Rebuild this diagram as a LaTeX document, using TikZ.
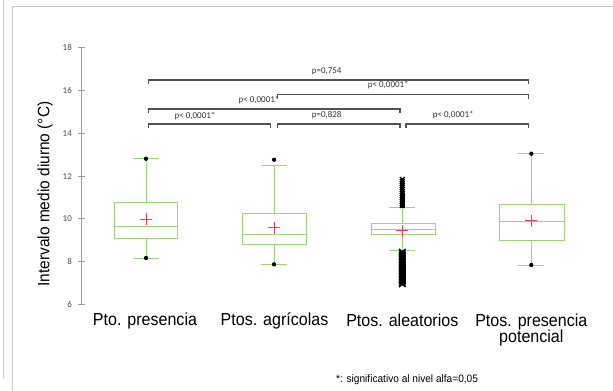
\documentclass[tikz,border=0pt]{standalone}
\usepackage{fontspec}
\setmainfont{Liberation Sans}
\newfontfamily\smallf{Carlito}
\begin{document}
\begin{tikzpicture}[x=1bp,y=-1bp,
  frame/.style={draw=black!22,line width=0.9bp},
  axisl/.style={draw=black!40,line width=0.9bp},
  boxg/.style={draw=boxgreen,line width=0.9bp},
  meanx/.style={draw=meanred,line width=0.9bp},
  brk/.style={draw=black!68,line width=1.2bp},
  plab/.style={font=\smallf\fontsize{9}{10}\selectfont,text=black!80,inner sep=0pt},
  tlab/.style={font=\smallf\fontsize{9}{10}\selectfont,text=black!70,inner sep=0pt,anchor=east},
  clab/.style={font=\fontsize{17.5}{19}\selectfont,inner sep=0pt,align=center,xscale=0.92},
  outx/.style={draw=black,line width=1.3bp},
  dot/.style={fill=black,circle,inner sep=0pt,minimum size=4.3bp}
]
\definecolor{boxgreen}{RGB}{160,212,120}
\definecolor{meanred}{RGB}{240,60,80}
\useasboundingbox (0,0) rectangle (613,390);
% frame
\draw[frame] (3,0) -- (3,378);
\draw[frame] (12.3,390) -- (12.3,6) -- (613,6);
% axis
\draw[axisl] (81,47.7) -- (81,304.3);
\foreach \v/\yy in {18/47.7,16/90.5,14/133.3,12/176.1,10/218.9,8/261.7,6/304.3}{
  \draw[axisl] (77.7,\yy) -- (85.3,\yy);
  \node[tlab] (t\v) at (72,\yy) {\v};
}
\node[font=\fontsize{16.5}{18}\selectfont,rotate=90,xscale=0.94,inner sep=0pt] (ylab) at (45,194) {Intervalo medio diurno (°C)};
% boxes: center, left, right, top, bottom, median, mean, wtop, wbot
\foreach \c/\l/\r/\t/\b/\m/\mu/\wt/\wb in {
  146/114/177.3/202.3/238.3/226/219/158.7/258,
  274/242.3/306/213.3/244.7/234.3/227.7/165.7/264.3,
  402.3/371/435/223.7/234/229.3/230.7/207.7/250,
  531.3/499/564/204.3/240.7/221.7/220.7/153.7/265}{
  \draw[boxg] (\l,\t) rectangle (\r,\b);
  \draw[boxg] (\l,\m) -- (\r,\m);
  \draw[boxg] (\c,\t) -- (\c,\wt);
  \draw[boxg] (\c,\b) -- (\c,\wb);
  \draw[boxg] (\c-13,\wt) -- (\c+13,\wt);
  \draw[boxg] (\c-13,\wb) -- (\c+13,\wb);
  \draw[meanx] (\c-6,\mu) -- (\c+6,\mu) (\c,\mu-6) -- (\c,\mu+6);
}
% outlier dots
\node[dot] (o1a) at (146,158.7) {};
\node[dot] (o1b) at (146,258) {};
\node[dot] (o2a) at (274,159.7) {};
\node[dot] (o2b) at (274,264.3) {};
\node[dot] (o4a) at (531.3,153.7) {};
\node[dot] (o4b) at (531.3,265) {};
% dense outliers of box 3
\foreach \yy in {179.5,181.5,...,206.5}{
  \draw[outx] (400,\yy-2.5) -- (404.6,\yy+2.5) (404.6,\yy-2.5) -- (400,\yy+2.5);
}
\fill[black] (399.8,193) rectangle (404.8,207.5);
\foreach \yy in {251.5,253,...,285.5}{
  \draw[outx] (399,\yy-2.5) -- (405.6,\yy+2.5) (405.6,\yy-2.5) -- (399,\yy+2.5);
}
\fill[black] (399.5,250.5) rectangle (405.1,266);
\fill[black] (398.8,266) rectangle (405.8,284);
% brackets
\draw[brk] (148.7,128) -- (148.7,124) -- (270.7,124) -- (270.7,128);
\node[plab] (pA) at (195,115.7) {p< 0,0001*};
\draw[brk] (277.7,128) -- (277.7,124) -- (400,124) -- (400,128);
\node[plab] (pB) at (326.7,115) {p=0,828};
\draw[brk] (406,128) -- (406,124) -- (528.7,124) -- (528.7,128);
\node[plab] (pC) at (453.3,115) {p< 0,0001*};
\draw[brk] (148.7,113) -- (148.7,109) -- (400,109) -- (400,113);
\node[plab] (pD) at (259,100.3) {p< 0,0001*};
\draw[brk] (277.7,99) -- (277.7,94.7) -- (528.7,94.7) -- (528.7,99);
\node[plab] (pE) at (388.3,85.3) {p< 0,0001*};
\draw[brk] (148.7,84) -- (148.7,80) -- (528.7,80) -- (528.7,84);
\node[plab] (pF) at (326.7,71) {p=0,754};
% category labels
\node[clab] (c1) at (145,320.7) {Pto. presencia};
\node[clab] (c2) at (274.5,320.7) {Ptos. agrícolas};
\node[clab] (c3) at (402.3,320.7) {Ptos. aleatorios};
\node[clab,anchor=north] (c4) at (531.3,314) {Ptos. presencia\\[-3pt]potencial};
% footnote
\node[font=\fontsize{10.8}{12}\selectfont,xscale=0.94,inner sep=0pt,anchor=west] (fn) at (336,379.3) {*: significativo al nivel alfa=0,05};
\end{tikzpicture}
\end{document}
